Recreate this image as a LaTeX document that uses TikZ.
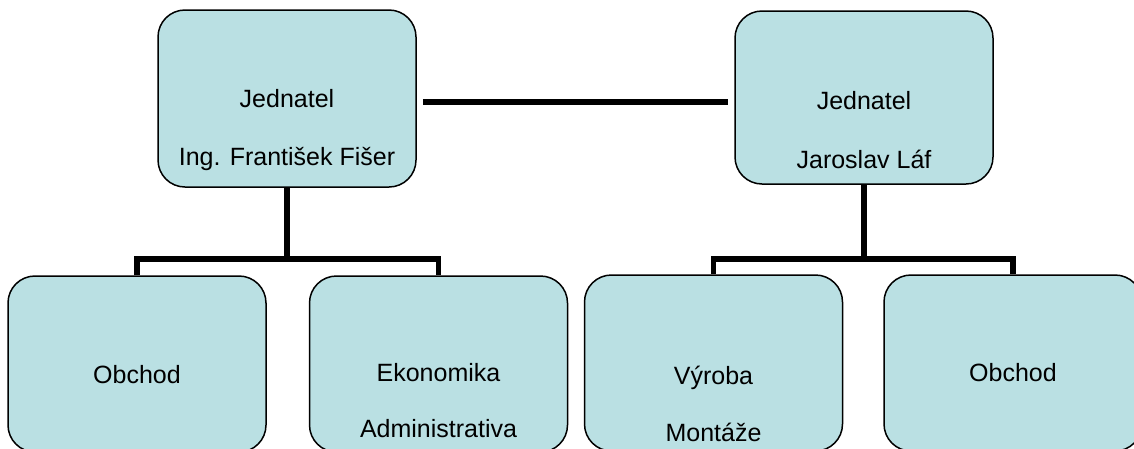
\documentclass[tikz,border=0pt]{standalone}
\usepackage{fontspec}
\setmainfont{Liberation Sans}
\definecolor{boxfill}{RGB}{186,224,227}
\begin{document}
\begin{tikzpicture}[x=1pt,y=-1pt,
  orgbox/.style={draw=black, line width=1.5pt, fill=boxfill, rounded corners=27pt,
    minimum width=258pt, inner sep=0pt},
  lbl/.style={anchor=base, inner sep=0pt, font=\fontsize{25}{25}\selectfont},
  conn/.style={draw=black, line width=5.5pt, line join=miter, line cap=butt}]
\useasboundingbox (0,0) rectangle (1134,448);
\fill[white] (0,0) rectangle (1134,448);
\clip (0,0) rectangle (1134,448);
% top boxes
\node[orgbox, minimum height=177pt] (tl) at (287,98.5) {};
\node[orgbox, minimum height=173pt] (tr) at (864,97.5) {};
% bottom boxes
\node[orgbox, minimum height=176pt] (b1) at (137,364) {};
\node[orgbox, minimum height=176pt] (b2) at (438.5,364) {};
\node[orgbox, minimum height=176pt] (b3) at (713.5,363) {};
\node[orgbox, minimum height=176pt] (b4) at (1013,363) {};
% labels
\node[lbl] (tl1) at (287,107) {Jednatel};
\node[lbl] (tl2) at (287,165) {Ing. František Fišer};
\node[lbl] (tr1) at (864,109) {Jednatel};
\node[lbl] (tr2) at (864,168) {Jaroslav Láf};
\node[lbl] (b1t) at (137,383) {Obchod};
\node[lbl] (b2t) at (438.5,381) {Ekonomika};
\node[lbl] (b2u) at (438.5,437) {Administrativa};
\node[lbl] (b3t) at (713.5,384) {Výroba};
\node[lbl] (b3u) at (713.5,441) {Montáže};
\node[lbl] (b4t) at (1013,381) {Obchod};
% connectors
\coordinate (lj) at (287,259);
\coordinate (rj) at (864,259);
\draw[conn, shorten <=6pt, shorten >=6pt] ([yshift=-3.5pt]tl.east) -- ([yshift=-3.5pt]tr.west |- tl.east);
\draw[conn] (tl.south) -- (lj);
\draw[conn] (b1.north) |- (lj) -| (b2.north);
\draw[conn] (tr.south) -- (rj);
\draw[conn] (b3.north) |- (rj) -| (b4.north);
\end{tikzpicture}
\end{document}
